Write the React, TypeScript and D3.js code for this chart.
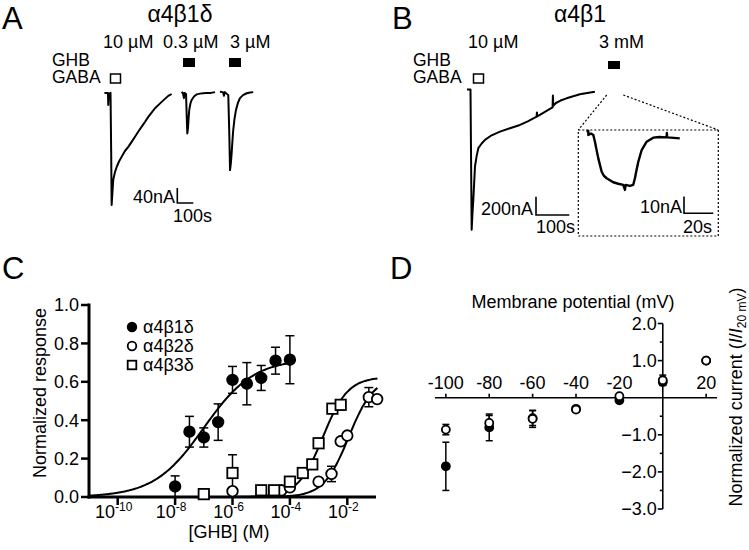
import React from 'react';
import * as d3 from 'd3';

const FONT = '"Liberation Sans", Arial, Helvetica, sans-serif';

// ---- Panel A traces, [time (s), current (nA)] ----
const traceA1: [number, number][] = [
  [-16, 3], [6, 3], [8, -29], [11, 0], [22, 3], [26, -149], [29, -296],
  [32, -275], [39, -229], [50, -208], [61, -194], [75, -180], [92, -167],
  [112, -152], [133, -141], [155, -127], [175, -114], [196, -100], [217, -87],
  [238, -74], [258, -61], [280, -49], [300, -38], [322, -29], [342, -21],
  [362, -13], [383, -5], [404, 0],
];
const traceA2: [number, number][] = [
  [467, 6], [475, 1], [481, -11], [484, 3], [494, 0], [499, -70], [502, -105],
  [506, -91], [510, -65], [514, -43], [521, -26], [529, -16], [545, -6],
  [561, -1], [580, 1], [602, 2], [625, 3], [650, 3], [675, 5],
];
const traceA3: [number, number][] = [
  [706, 6], [725, 5], [731, -5], [737, 5], [758, -3], [764, -100], [769, -203],
  [774, -185], [779, -158], [784, -125], [789, -96], [797, -66], [806, -43],
  [818, -24], [831, -11], [850, -3], [873, 2], [895, 4], [914, 5],
];

// ---- Panel B trace, [time (s), current (nA)] ----
const traceB: [number, number][] = [
  [-9, 5], [1.5, 5], [3, -654], [5, -1527], [7.5, -1341], [10, -1200],
  [15, -836], [20, -720], [25, -636], [35, -585], [45, -545], [65, -495],
  [90, -455], [120, -418], [150, -382], [175, -340], [200, -291], [201, -245],
  [202, -289], [220, -250], [235, -218], [248, -191], [249, -60], [250, -174],
  [258, -142], [272, -115], [290, -91], [310, -68], [330, -47], [352, -32],
  [375, -19],
];

// ---- Panel B inset, [time (s), current (nA)] ----
const traceInset: [number, number][] = [
  [0.3, 1.8], [1.6, 1.8], [1.6, -0.6], [3.4, 0.3], [5, -0.6], [6.1, -4.6],
  [7.2, -9.5], [8.4, -14.6], [10.7, -22.6], [12.2, -25], [14.1, -26.5],
  [18.6, -28.9], [22, -29.8], [25.4, -30.5], [26.6, -33.5], [27, -30.5],
  [30, -31.1], [32.2, -30.5], [33.4, -26.5], [34.5, -21.5], [35.7, -16.6],
  [38, -9.6], [41.4, -4.6], [45.9, -2.2], [50, -1.8], [55, -2], [55.2, 0.6],
  [55.4, -2], [60, -2.3], [64, -2.6],
];

// ---- Panel C: concentration-response, log10[GHB] (M) ----
const b1dLog = [-8, -7.5, -7, -6.5, -6, -5.5, -5, -4.5, -4];
const b1dMean = [0.055, 0.34, 0.31, 0.39, 0.61, 0.59, 0.62, 0.71, 0.715];
const b1dErr = [0.055, 0.08, 0.05, 0.095, 0.07, 0.11, 0.065, 0.07, 0.125];

const b2dLog = [-6, -4.3, -4, -3, -2.55, -2.23, -2, -1.25, -0.96];
const b2dMean = [0.03, 0.035, 0.05, 0.08, 0.12, 0.29, 0.32, 0.52, 0.51];
const b2dErr = [0.01, 0, 0.015, 0, 0.04, 0, 0, 0.05, 0];

const b3dLog = [-7, -6, -5, -4.55, -4, -3.55, -3.22, -3, -2.52, -2.23];
const b3dMean = [0.015, 0.125, 0.035, 0.035, 0.08, 0.125, 0.17, 0.28, 0.46, 0.48];
const b3dErr = [0, 0.095, 0, 0, 0, 0, 0, 0, 0, 0];

// Hill fits: top, logEC50, slope, drawn range
const fitTop = [0.72, 0.625, 0.625];
const fitLogEC50 = [-7, -1.95, -2.85];
const fitHill = [0.5, 1, 1];
const fitRange: [number, number][] = [[-11, -4], [-5, -0.95], [-6, -0.95]];

const xTicksC = [-10, -8, -6, -4, -2];
const yTicksC = [0, 0.2, 0.4, 0.6, 0.8, 1.0];
const legendC = ['α4β1δ', 'α4β2δ', 'α4β3δ'];

// ---- Panel D: I-V relation ----
const vm = [-100, -80, -60, -40, -20, 0, 20];
const filledMean = [-1.85, -0.8, -0.55, -0.3, -0.07, 0.42, 1.0];
const filledErr = [0.65, 0.36, 0.2, 0.07, 0.03, 0.08, 0];
const openMean = [-0.86, -0.68, -0.57, -0.32, 0.04, 0.47, 1.0];
const openErr = [0.14, 0.2, 0.23, 0.07, 0.03, 0.14, 0];
const xTicksD = [-100, -80, -60, -40, -20, 20];
const yTicksD = [2, 1, -1, -2, -3];
const yMinorD = [1.5, 0.5, -0.5, -1.5, -2.5];

const T = { fontFamily: FONT, fontSize: 18, fill: '#000' } as const;

function App() {
  // panel A scales (scale bar 40 nA / 100 s)
  const xA = d3.scaleLinear().domain([0, 100]).range([107, 123]);
  const yA = d3.scaleLinear().domain([0, -40]).range([94, 109]);
  const lineA = d3.line<[number, number]>().x(d => xA(d[0])).y(d => yA(d[1]));

  // panel B scales (200 nA / 100 s) and inset (10 nA / 20 s)
  const xB = d3.scaleLinear().domain([0, 100]).range([470, 503.3]);
  const yB = d3.scaleLinear().domain([0, -200]).range([90, 108.3]);
  const lineB = d3.line<[number, number]>().x(d => xB(d[0])).y(d => yB(d[1]));
  const xI = d3.scaleLinear().domain([0, 20]).range([586, 615.3]);
  const yI = d3.scaleLinear().domain([0, -10]).range([134, 150.7]);
  const lineI = d3.line<[number, number]>().x(d => xI(d[0])).y(d => yI(d[1]));

  // panel C
  const xC = d3.scaleLinear().domain([-11, -1]).range([89, 376]);
  const yC = d3.scaleLinear().domain([0, 1]).range([497, 305]);
  const fitLine = d3.line<number[]>().x(d => xC(d[0])).y(d => yC(d[1])).curve(d3.curveBasis);
  const fits = fitTop.map((top, i) =>
    d3.range(fitRange[i][0], fitRange[i][1] + 1e-9, 0.05).map(x => [
      x,
      top / (1 + Math.pow(10, (fitLogEC50[i] - x) * fitHill[i])),
    ])
  );

  // panel D
  const xD = d3.scaleLinear().domain([-105, 25]).range([435, 717]);
  const yD = d3.scaleLinear().domain([-3, 2]).range([509, 323.5]);

  const errBar = (x: number, y0: number, y1: number, cap: number, key: string) => (
    <g key={key} stroke="#000" strokeWidth={1.5}>
      <line x1={x} x2={x} y1={y0} y2={y1} />
      <line x1={x - cap} x2={x + cap} y1={y0} y2={y0} />
      <line x1={x - cap} x2={x + cap} y1={y1} y2={y1} />
    </g>
  );

  const seriesC = [
    { log: b1dLog, mean: b1dMean, err: b1dErr, kind: 'filled' },
    { log: b2dLog, mean: b2dMean, err: b2dErr, kind: 'open' },
    { log: b3dLog, mean: b3dMean, err: b3dErr, kind: 'square' },
  ];

  const marker = (kind: string, x: number, y: number, r: number, key: string) =>
    kind === 'square' ? (
      <rect key={key} x={x - r} y={y - r} width={2 * r} height={2 * r} fill="#fff" stroke="#000" strokeWidth={1.8} />
    ) : (
      <circle key={key} cx={x} cy={y} r={r} fill={kind === 'filled' ? '#000' : '#fff'} stroke="#000" strokeWidth={1.8} />
    );

  const yCurAxis = yD(0);

  return (
    <svg width={749} height={550} style={{ position: 'absolute', left: 0, top: 0, background: '#fff' }}>
      {/* ---------- Panel A ---------- */}
      <text {...T} x={2} y={29} fontSize={31}>A</text>
      <text {...T} x={180} y={22} fontSize={23} textAnchor="middle">α4β1δ</text>
      <text {...T} x={103} y={48}>10 µM</text>
      <text {...T} x={163} y={48}>0.3 µM</text>
      <text {...T} x={230} y={48}>3 µM</text>
      <text {...T} x={52} y={66} fontSize={17.5}>GHB</text>
      <text {...T} x={52} y={83} fontSize={17.5}>GABA</text>
      <rect x={110.5} y={74} width={10} height={9} fill="#fff" stroke="#000" strokeWidth={1.5} />
      <rect x={183} y={58} width={12} height={9} fill="#000" />
      <rect x={229} y={58} width={12} height={9} fill="#000" />
      {[traceA1, traceA2, traceA3].map((tr, i) => (
        <path key={i} d={lineA(tr) || ''} fill="none" stroke="#000" strokeWidth={2} strokeLinejoin="round" />
      ))}
      <path
        d={`M${177.3},${188}V${203}H${177.3 + xA(100) - xA(0)}`}
        fill="none" stroke="#000" strokeWidth={1.6}
      />
      <text {...T} x={175} y={203} textAnchor="end">40nA</text>
      <text {...T} x={173} y={222}>100s</text>

      {/* ---------- Panel B ---------- */}
      <text {...T} x={392} y={29} fontSize={31}>B</text>
      <text {...T} x={580} y={22} fontSize={23} textAnchor="middle">α4β1</text>
      <text {...T} x={468} y={48}>10 µM</text>
      <text {...T} x={599} y={48}>3 mM</text>
      <text {...T} x={413} y={66} fontSize={17.5}>GHB</text>
      <text {...T} x={413} y={83} fontSize={17.5}>GABA</text>
      <rect x={473.5} y={74} width={10} height={9} fill="#fff" stroke="#000" strokeWidth={1.5} />
      <rect x={608} y={61} width={12} height={8} fill="#000" />
      <path d={lineB(traceB) || ''} fill="none" stroke="#000" strokeWidth={2} strokeLinejoin="round" />
      <path
        d={`M536,${215 - (yB(-200) - yB(0))}V215H${536 + xB(100) - xB(0)}`}
        fill="none" stroke="#000" strokeWidth={1.6}
      />
      <text {...T} x={533} y={215} textAnchor="end">200nA</text>
      <text {...T} x={536} y={233}>100s</text>
      {/* zoom guides and inset */}
      <g stroke="#000" strokeWidth={1.2} strokeDasharray="2,2" fill="none">
        <line x1={606.7} y1={95} x2={578.3} y2={130} />
        <line x1={623.3} y1={95} x2={718.3} y2={130} />
        <rect x={578.3} y={130} width={140} height={106} />
      </g>
      <path d={lineI(traceInset) || ''} fill="none" stroke="#000" strokeWidth={2.4} strokeLinejoin="round" />
      <path
        d={`M684,${213.3 - (yI(-10) - yI(0))}V213.3H${684 + xI(20) - xI(0)}`}
        fill="none" stroke="#000" strokeWidth={1.6}
      />
      <text {...T} x={682} y={213} textAnchor="end">10nA</text>
      <text {...T} x={683} y={233}>20s</text>

      {/* ---------- Panel C ---------- */}
      <text {...T} x={2} y={279} fontSize={31}>C</text>
      <g stroke="#000" strokeWidth={3} fill="none">
        <line x1={xC(-11)} x2={xC(-11)} y1={yC(1) - 1.5} y2={yC(0) + 1.5} />
        <line x1={xC(-11) - 1.5} x2={xC(-1)} y1={yC(0)} y2={yC(0)} />
        {yTicksC.map(v => (
          <line key={v} x1={xC(-11) - 8} x2={xC(-11)} y1={yC(v)} y2={yC(v)} strokeWidth={2.5} />
        ))}
        {xTicksC.map(v => (
          <line key={v} x1={xC(v)} x2={xC(v)} y1={yC(0)} y2={yC(0) + 8} strokeWidth={2.5} />
        ))}
      </g>
      {yTicksC.map(v => (
        <text key={v} {...T} x={xC(-11) - 10} y={yC(v)} dy="0.35em" textAnchor="end">{d3.format('.1f')(v)}</text>
      ))}
      {xTicksC.map(v => (
        <text key={v} {...T} x={xC(v) - 4} y={518} textAnchor="middle">
          10<tspan dy={-7} fontSize={12}>{String(v)}</tspan>
        </text>
      ))}
      <text {...T} transform="translate(46,393) rotate(-90)" textAnchor="middle">Normalized response</text>
      <text {...T} x={229} y={538} textAnchor="middle">[GHB] (M)</text>
      {fits.map((f, i) => (
        <path key={i} d={fitLine(f) || ''} fill="none" stroke="#000" strokeWidth={2} />
      ))}
      {seriesC.map((s, si) =>
        s.log.map((l, i) =>
          s.err[i] > 0 ? errBar(xC(l), yC(s.mean[i] + s.err[i]), yC(s.mean[i] - s.err[i]), 4.5, `e${si}-${i}`) : null
        )
      )}
      {seriesC.map((s, si) => s.log.map((l, i) => marker(s.kind, xC(l), yC(s.mean[i]), si === 2 ? 5.2 : 5.3, `m${si}-${i}`)))}
      {legendC.map((name, i) => (
        <g key={name}>
          {marker(seriesC[i].kind, 132, 327 + i * 19, 4.3, `l${i}`)}
          <text {...T} x={143} y={327 + i * 19} dy="0.35em">{name}</text>
        </g>
      ))}

      {/* ---------- Panel D ---------- */}
      <text {...T} x={390} y={279} fontSize={31}>D</text>
      <text {...T} x={573} y={308} textAnchor="middle">Membrane potential (mV)</text>
      <g stroke="#000" strokeWidth={1.6}>
        <line x1={xD(-105)} x2={xD(25)} y1={yCurAxis} y2={yCurAxis} />
        <line x1={xD(0)} x2={xD(0)} y1={yD(2)} y2={yD(-3)} />
        {xTicksD.map(v => (
          <line key={v} x1={xD(v)} x2={xD(v)} y1={yCurAxis} y2={yCurAxis - 4} />
        ))}
        {yTicksD.map(v => (
          <line key={v} x1={xD(0) - 5} x2={xD(0)} y1={yD(v)} y2={yD(v)} />
        ))}
        {yMinorD.map(v => (
          <line key={v} x1={xD(0) - 3} x2={xD(0)} y1={yD(v)} y2={yD(v)} />
        ))}
      </g>
      {xTicksD.map(v => (
        <text key={v} {...T} x={xD(v)} y={389} textAnchor="middle">{String(v)}</text>
      ))}
      {yTicksD.map(v => (
        <text key={v} {...T} x={xD(0) - 6} y={yD(v)} dy="0.35em" textAnchor="end">{d3.format('.1f')(v)}</text>
      ))}
      <text {...T} transform="translate(742,397) rotate(-90)" textAnchor="middle">
        Normalized current (<tspan fontStyle="italic">I</tspan>/<tspan fontStyle="italic">I</tspan>
        <tspan dy={4} fontSize={12}>20 mV</tspan><tspan dy={-4}>)</tspan>
      </text>
      {vm.map((v, i) =>
        filledErr[i] > 0 ? errBar(xD(v), yD(filledMean[i] + filledErr[i]), yD(filledMean[i] - filledErr[i]), 3.5, `fe${i}`) : null
      )}
      {vm.map((v, i) => marker('filled', xD(v), yD(filledMean[i]), 4, `fm${i}`))}
      {vm.map((v, i) =>
        openErr[i] > 0 ? errBar(xD(v), yD(openMean[i] + openErr[i]), yD(openMean[i] - openErr[i]), 3.5, `oe${i}`) : null
      )}
      {vm.map((v, i) => marker('open', xD(v), yD(openMean[i]), 4, `om${i}`))}
    </svg>
  );
}

export default App;
